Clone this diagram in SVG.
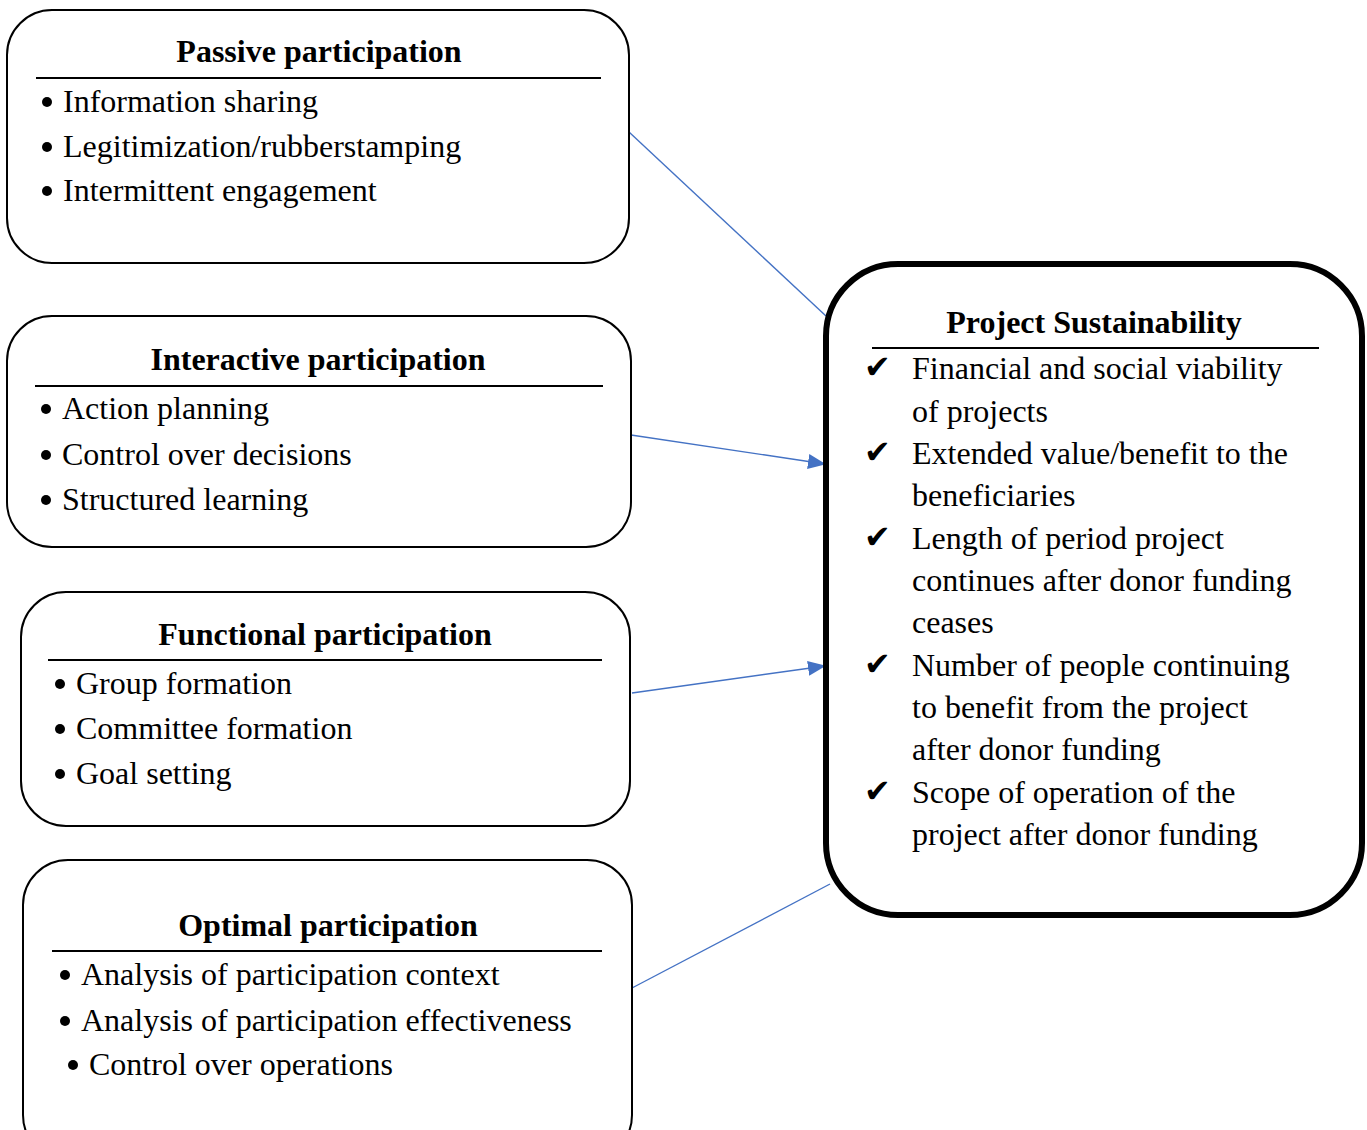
<svg xmlns="http://www.w3.org/2000/svg" width="1367" height="1130" viewBox="0 0 1367 1130">
  <style>
    .box { fill: #ffffff; stroke: #000000; stroke-width: 2; }
    .main { fill: #ffffff; stroke: #000000; stroke-width: 6; }
    .rule { stroke: #000000; stroke-width: 2; }
    .title { font-family: "Liberation Serif", "Times New Roman", serif; font-size: 32px; font-weight: bold; fill: #000000; text-anchor: middle; }
    .item { font-family: "Liberation Serif", "Times New Roman", serif; font-size: 32px; fill: #000000; }
    .dot { fill: #000000; }
    .tick { font-family: "DejaVu Sans", sans-serif; font-size: 32px; fill: #000000; }
    .link { stroke: #4472C4; stroke-width: 1.4; fill: none; }
  </style>
  <defs>
    <marker id="arrow" markerWidth="18" markerHeight="15" refX="17" refY="7.5" orient="auto" markerUnits="userSpaceOnUse">
      <path d="M0,0 L18,7.5 L0,15 Z" fill="#4472C4"/>
    </marker>
  </defs>

  <rect width="1367" height="1130" fill="#ffffff"/>

  <g id="connectors">
    <line class="link" x1="629" y1="132" x2="826" y2="316"/>
    <line class="link" x1="631" y1="435" x2="825" y2="464" marker-end="url(#arrow)"/>
    <line class="link" x1="632" y1="693" x2="825" y2="666" marker-end="url(#arrow)"/>
    <line class="link" x1="632" y1="988" x2="830" y2="884"/>
  </g>

  <g id="passive">
    <rect class="box" x="7" y="10" width="622" height="253" rx="45" ry="45"/>
    <text class="title" x="319" y="62">Passive participation</text>
    <line class="rule" x1="36" y1="78" x2="601" y2="78"/>
    <circle class="dot" cx="47" cy="102" r="5"/><text class="item" x="63" y="112">Information sharing</text>
    <circle class="dot" cx="47" cy="147" r="5"/><text class="item" x="63" y="157">Legitimization/rubberstamping</text>
    <circle class="dot" cx="47" cy="191" r="5"/><text class="item" x="63" y="201">Intermittent engagement</text>
  </g>

  <g id="interactive">
    <rect class="box" x="7" y="316" width="624" height="231" rx="45" ry="45"/>
    <text class="title" x="318" y="370">Interactive participation</text>
    <line class="rule" x1="35" y1="386" x2="603" y2="386"/>
    <circle class="dot" cx="46" cy="409" r="5"/><text class="item" x="62" y="419">Action planning</text>
    <circle class="dot" cx="46" cy="455" r="5"/><text class="item" x="62" y="465">Control over decisions</text>
    <circle class="dot" cx="46" cy="500" r="5"/><text class="item" x="62" y="510">Structured learning</text>
  </g>

  <g id="functional">
    <rect class="box" x="21" y="592" width="609" height="234" rx="45" ry="45"/>
    <text class="title" x="325" y="645">Functional participation</text>
    <line class="rule" x1="48" y1="660" x2="602" y2="660"/>
    <circle class="dot" cx="60" cy="684" r="5"/><text class="item" x="76" y="694">Group formation</text>
    <circle class="dot" cx="60" cy="729" r="5"/><text class="item" x="76" y="739">Committee formation</text>
    <circle class="dot" cx="60" cy="774" r="5"/><text class="item" x="76" y="784">Goal setting</text>
  </g>

  <g id="optimal">
    <rect class="box" x="23" y="860" width="609" height="300" rx="45" ry="45"/>
    <text class="title" x="328" y="936">Optimal participation</text>
    <line class="rule" x1="52" y1="951" x2="602" y2="951"/>
    <circle class="dot" cx="65" cy="975" r="5"/><text class="item" x="81" y="985">Analysis of participation context</text>
    <circle class="dot" cx="65" cy="1021" r="5"/><text class="item" x="81" y="1031">Analysis of participation effectiveness</text>
    <circle class="dot" cx="73" cy="1065" r="5"/><text class="item" x="89" y="1075">Control over operations</text>
  </g>

  <g id="sustainability">
    <rect class="main" x="826" y="264" width="536" height="651" rx="72" ry="72"/>
    <text class="title" x="1094" y="333">Project Sustainability</text>
    <line class="rule" x1="872" y1="348" x2="1319" y2="348"/>
    <text class="tick" x="864" y="378">✔</text>
    <text class="item" x="912" y="379">Financial and social viability</text>
    <text class="item" x="912" y="422">of projects</text>
    <text class="tick" x="864" y="463">✔</text>
    <text class="item" x="912" y="464">Extended value/benefit to the</text>
    <text class="item" x="912" y="506">beneficiaries</text>
    <text class="tick" x="864" y="548">✔</text>
    <text class="item" x="912" y="549">Length of period project</text>
    <text class="item" x="912" y="591">continues after donor funding</text>
    <text class="item" x="912" y="633">ceases</text>
    <text class="tick" x="864" y="675">✔</text>
    <text class="item" x="912" y="676">Number of people continuing</text>
    <text class="item" x="912" y="718">to benefit from the project</text>
    <text class="item" x="912" y="760">after donor funding</text>
    <text class="tick" x="864" y="802">✔</text>
    <text class="item" x="912" y="803">Scope of operation of the</text>
    <text class="item" x="912" y="845">project after donor funding</text>
  </g>
</svg>
